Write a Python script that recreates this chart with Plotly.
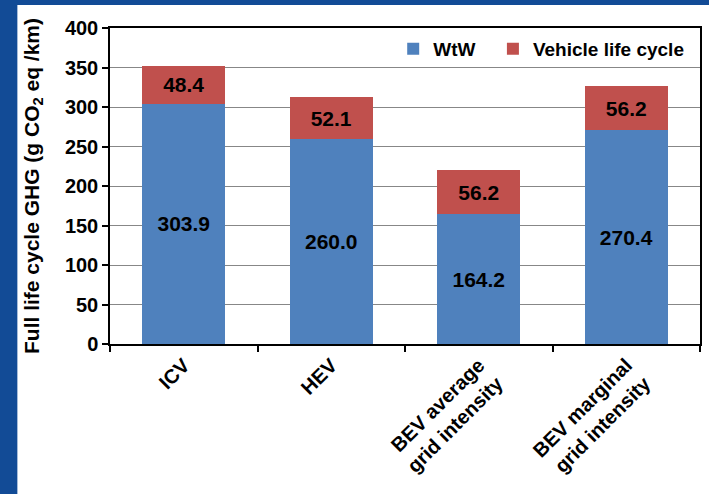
import plotly.graph_objects as go

# Vehicle categories and GHG components (g CO2 eq / km)
categories = ["ICV", "HEV", "BEV average<br>grid intensity", "BEV marginal<br>grid intensity"]
wtw = [303.9, 260.0, 164.2, 270.4]
vehicle_life_cycle = [48.4, 52.1, 56.2, 56.2]

font_family = "Liberation Sans, Arial, sans-serif"
tick_font = dict(family=font_family, size=20, color="black", weight="bold")
legend_font = dict(family=font_family, size=19, color="black", weight="bold")
label_font = dict(family=font_family, size=21, color="black", weight="bold")

fig = go.Figure()

fig.add_trace(go.Bar(x=categories, y=wtw, name="WtW", legend="legend",
                     marker=dict(color="#4F81BD", line=dict(width=0)),
                     texttemplate="%{y:.1f}", textposition="inside",
                     insidetextanchor="middle", textangle=0, textfont=label_font))

fig.add_trace(go.Bar(x=categories, y=vehicle_life_cycle, name="Vehicle life cycle", legend="legend2",
                     marker=dict(color="#C0504D", line=dict(width=0)),
                     texttemplate="%{y:.1f}", textposition="inside",
                     insidetextanchor="middle", textangle=0, textfont=label_font))

legend_common = dict(orientation="h", xanchor="left", y=0.994, yanchor="top",
                     bgcolor="rgba(0,0,0,0)", font=legend_font)

fig.update_layout(
    barmode="stack",
    bargap=0.44,
    width=709, height=494,
    margin=dict(l=110, r=7, t=28, b=150),
    paper_bgcolor="#124b96",
    plot_bgcolor="white",
    font=tick_font,
    showlegend=True,
    legend=dict(x=0.480, **legend_common),
    legend2=dict(x=0.649, **legend_common),
    # white slide panel behind the chart
    shapes=[dict(type="rect", xref="paper", yref="paper",
                 x0=-0.157, x1=1.05, y0=-0.6, y1=1.073,
                 fillcolor="white", line=dict(width=0), layer="below")],
)

fig.update_yaxes(range=[0, 400], dtick=50, showgrid=True, gridcolor="#878787", gridwidth=1,
                 showline=True, linecolor="black", linewidth=1.5, mirror=True,
                 ticks="outside", ticklen=6, tickcolor="black", tickwidth=1.5,
                 tickfont=tick_font,
                 title=dict(text="Full life cycle GHG (g CO<sub>2</sub> eq /km)",
                            font=dict(family=font_family, size=21, color="black", weight="bold"),
                            standoff=20),
                 zeroline=False)

fig.update_xaxes(showline=True, linecolor="black", linewidth=1.5, mirror=True,
                 ticks="outside", ticklen=6, tickcolor="black", tickwidth=1.5,
                 tickson="boundaries", tickangle=-45, tickfont=tick_font)

# drop the browser's default page margin so the figure sits at the window corner
fig.write_html("out.html", config={"displayModeBar": False},
               post_script="document.body.style.margin='0';")
